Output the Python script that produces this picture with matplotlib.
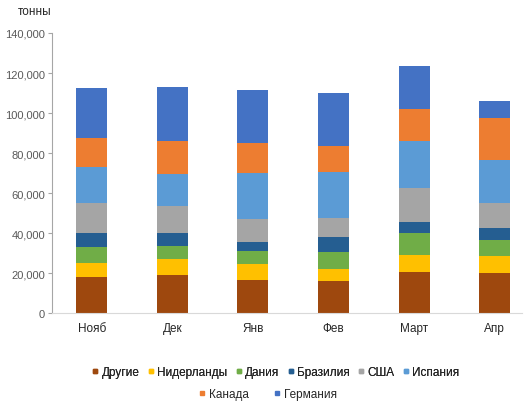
import matplotlib.pyplot as plt
from matplotlib.lines import Line2D
from matplotlib.ticker import FuncFormatter
import numpy as np

plt.rcParams['font.family'] = ['Liberation Sans', 'DejaVu Sans']

months = ["Нояб", "Дек", "Янв", "Фев", "Март", "Апр"]
series_names = ["Другие", "Нидерланды", "Дания", "Бразилия", "США",
                "Испания", "Канада", "Германия"]
colors = ["#9E480E", "#FFC000", "#70AD47", "#255E91", "#A5A5A5",
          "#5B9BD5", "#ED7D31", "#4472C4"]

drugie = [18000, 19300, 16800, 16000, 20500, 20150]
niderlandy = [7150, 7850, 7850, 6150, 8800, 8650]
daniya = [7850, 6650, 6500, 8350, 10700, 7850]
braziliya = [7000, 6200, 4650, 7500, 5500, 5850]
ssha = [15300, 13650, 11350, 9500, 17000, 12650]
ispaniya = [18000, 16150, 23150, 23000, 23800, 21650]
kanada = [14350, 16200, 14850, 13000, 15500, 20850]
germaniya = [24850, 27000, 26150, 26500, 21850, 8350]

series = [drugie, niderlandy, daniya, braziliya, ssha, ispaniya, kanada, germaniya]

fig = plt.figure(figsize=(5.25, 4.14), dpi=100)
ax = fig.add_axes([52 / 525, 1 - 314.3 / 414, 470 / 525, (314.3 - 34) / 414])

x = np.arange(len(months))
bottom = np.zeros(len(months))
for name, vals, c in zip(series_names, series, colors):
    ax.bar(x, vals, width=0.385, bottom=bottom, color=c, label=name)
    bottom += np.array(vals)

ax.set_xlim(-0.493, 5.339)
ax.set_ylim(0, 140000)
ax.set_yticks(range(0, 140001, 20000))
ax.yaxis.set_major_formatter(FuncFormatter(lambda v, p: f"{int(v):,}"))
ax.set_xticks(x)
ax.set_xticklabels(months, fontsize=8.5, color="#262626")
ax.tick_params(axis='y', labelsize=8, labelcolor="#595959", color="#A6A6A6",
               length=3, width=0.8, direction='out', pad=2)
ax.tick_params(axis='x', length=0, pad=6)

for s in ['top', 'right']:
    ax.spines[s].set_visible(False)
ax.spines['left'].set_color("#A6A6A6")
ax.spines['bottom'].set_color("#D9D9D9")
ax.spines['left'].set_linewidth(0.8)
ax.spines['bottom'].set_linewidth(0.8)

fig.text(18 / 525, 1 - 12 / 414, "тонны", fontsize=8.5, color="#262626", va='center')

handles = [Line2D([], [], marker='s', linestyle='none', markersize=3.5,
                  color=c) for c in colors]
leg1 = fig.legend(handles[:6], series_names[:6], ncol=6, loc='center',
                  bbox_to_anchor=(276 / 525, 1 - 373 / 414), frameon=False,
                  fontsize=8.5, handlelength=0.5, handletextpad=0.3,
                  columnspacing=0.7, labelcolor="#262626")
leg2 = fig.legend(handles[6:], series_names[6:], ncol=2, loc='center',
                  bbox_to_anchor=(268 / 525, 1 - 395 / 414), frameon=False,
                  fontsize=8.5, handlelength=0.5, handletextpad=0.3,
                  columnspacing=2.2, labelcolor="#262626")
fig.add_artist(leg1)

fig.savefig("out.png", dpi=100)
